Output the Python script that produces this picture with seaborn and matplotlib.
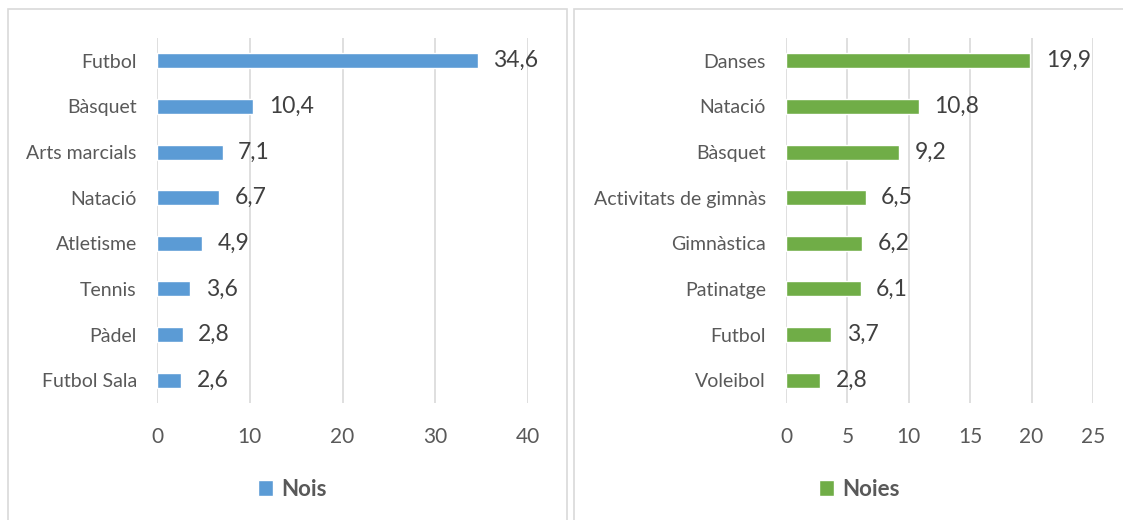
import matplotlib
matplotlib.use("Agg")
import matplotlib.pyplot as plt
import seaborn as sns
import pandas as pd
from matplotlib.patches import Rectangle

sns.set_style("white")
plt.rcParams['font.family'] = ['Lato', 'DejaVu Sans']

# Data
nois_sports = ["Futbol", "Bàsquet", "Arts marcials", "Natació", "Atletisme",
               "Tennis", "Pàdel", "Futbol Sala"]
nois_values = [34.6, 10.4, 7.1, 6.7, 4.9, 3.6, 2.8, 2.6]

noies_sports = ["Danses", "Natació", "Bàsquet", "Activitats de gimnàs",
                "Gimnàstica", "Patinatge", "Futbol", "Voleibol"]
noies_values = [19.9, 10.8, 9.2, 6.5, 6.2, 6.1, 3.7, 2.8]

nois_ticks = [0, 10, 20, 30, 40]
noies_ticks = [0, 5, 10, 15, 20, 25]

text_color = "#595959"
grid_color = "#D9D9D9"

fig = plt.figure(figsize=(11.23, 5.2), dpi=100)

# panel borders
fig.patches.append(Rectangle((8 / 1123, -0.1), 559 / 1123, 1.1 - 9 / 520,
                             transform=fig.transFigure, fill=False,
                             edgecolor=grid_color, linewidth=1.2))
fig.patches.append(Rectangle((574 / 1123, -0.1), 0.6, 1.1 - 9 / 520,
                             transform=fig.transFigure, fill=False,
                             edgecolor=grid_color, linewidth=1.2))

panels = [
    (nois_sports, nois_values, nois_ticks, "#5B9BD5", "Nois",
     [157 / 1123, 117 / 520, 371 / 1123, 365 / 520], 292 / 1123),
    (noies_sports, noies_values, noies_ticks, "#70AD47", "Noies",
     [786 / 1123, 117 / 520, 307 / 1123, 365 / 520], 859 / 1123),
]

for sports, values, ticks, color, name, pos, legx in panels:
    ax = fig.add_axes(pos)
    df = pd.DataFrame({"sport": sports, "value": values})
    sns.barplot(data=df, x="value", y="sport", orient="h", color=color,
                width=0.33, saturation=1, ax=ax, label=name)
    ax.set_xlim(ticks[0], ticks[-1])
    ax.set_ylim(len(sports) - 0.5, -0.5)
    ax.set_xticks(ticks)
    ax.set_xlabel("")
    ax.set_ylabel("")
    ax.grid(axis="x", color=grid_color, linewidth=1.2)
    ax.set_axisbelow(True)
    for s in ax.spines.values():
        s.set_visible(False)
    ax.tick_params(axis="both", length=0, colors=text_color)
    ax.tick_params(axis="y", labelsize=14, pad=14.5)
    ax.tick_params(axis="x", labelsize=15, pad=17)
    labels = [f"{v:.1f}".replace(".", ",") for v in values]
    ax.bar_label(ax.containers[0], labels=labels, padding=11,
                 fontsize=16.5, color="#404040")
    leg = ax.legend(loc="center", bbox_to_anchor=(legx, 1 - 489 / 520),
                    bbox_transform=fig.transFigure, frameon=False,
                    handlelength=0.7, handleheight=0.7, handletextpad=0.35,
                    prop={"weight": "bold", "size": 16})
    for t in leg.get_texts():
        t.set_color(text_color)

fig.savefig("out.png", dpi=100)
